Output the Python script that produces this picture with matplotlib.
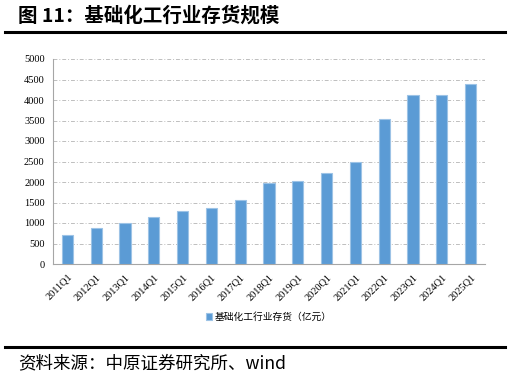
import matplotlib
matplotlib.use('Agg')
from matplotlib import pyplot as plt
import numpy as np

# data
quarters = ['2011Q1', '2012Q1', '2013Q1', '2014Q1', '2015Q1', '2016Q1', '2017Q1', '2018Q1',
            '2019Q1', '2020Q1', '2021Q1', '2022Q1', '2023Q1', '2024Q1', '2025Q1']
inventory = [700, 880, 1000, 1155, 1300, 1375, 1555, 1975,
             2025, 2230, 2490, 3540, 4120, 4120, 4400]
series_name = '基础化工行业存货（亿元）'
title = '图 11：基础化工行业存货规模'
source = '资料来源：中原证券研究所、wind'

cjk = ['Noto Sans CJK SC', 'DejaVu Sans']
serif = 'Liberation Serif'

fig = plt.figure(figsize=(5.1, 3.78), dpi=100)
ax = fig.add_axes([53 / 510, 1 - 264 / 378, 432 / 510, 205 / 378])

x = np.arange(len(quarters))
ax.bar(x, inventory, width=0.39, color='#5B9BD5', edgecolor='#9DC3E6',
       linewidth=0.8, label=series_name, zorder=3)

ax.set_xlim(-0.5, len(quarters) - 0.5)
ax.set_ylim(0, 5000)
ax.set_yticks(range(0, 5001, 500))
ax.set_yticklabels([str(v) for v in range(0, 5001, 500)], fontfamily=serif, fontsize=7.5)
ax.set_xticks(x)
ax.set_xticklabels(quarters, rotation=45, ha='right', rotation_mode='anchor',
                   fontfamily=serif, fontsize=7.5)
ax.tick_params(axis='both', length=0, pad=6)
ax.yaxis.grid(True, color='#BFBFBF', linestyle=(0, (4, 2, 1, 2)), linewidth=0.7, zorder=0)

for side in ['top', 'right']:
    ax.spines[side].set_visible(False)
for side in ['left', 'bottom']:
    ax.spines[side].set_color('#A6A6A6')
    ax.spines[side].set_linewidth(0.8)

leg = ax.legend(loc='center', bbox_to_anchor=(0.5, (264 - 317) / 205), frameon=False,
                prop={'family': cjk, 'size': 7}, handlelength=0.6, handleheight=0.6,
                handletextpad=0.3)

# header and footer
fig.text(18 / 510, 1 - 16 / 378, title, fontsize=14, fontweight='bold',
         family=cjk, va='center', ha='left')
fig.add_artist(plt.Line2D([5 / 510, 505 / 510], [1 - 32 / 378, 1 - 32 / 378],
                          color='black', linewidth=2.2))
fig.add_artist(plt.Line2D([5 / 510, 505 / 510], [1 - 347 / 378, 1 - 347 / 378],
                          color='black', linewidth=2.2))
fig.text(18 / 510, 1 - 363 / 378, source, fontsize=12.6, family=cjk,
         va='center', ha='left')

fig.savefig('out.png', dpi=100)
